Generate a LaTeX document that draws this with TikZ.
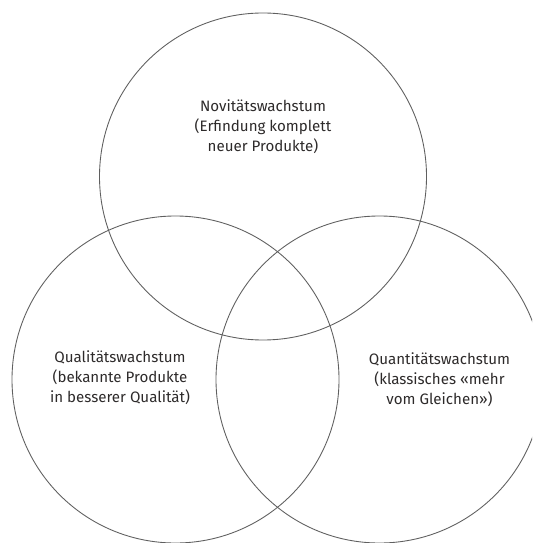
\documentclass[tikz,border=0pt]{standalone}
\usepackage{fontspec}
\setmainfont{Fira Sans}
\usepackage{tikz}
\definecolor{mydark}{RGB}{45,42,42}
\definecolor{mygray}{RGB}{95,95,95}
\tikzset{
  ring/.style={draw=mygray, line width=0.5pt},
  label/.style={align=center, text=mydark, inner sep=0pt,
    font=\fontsize{8.6}{11.3}\selectfont}
}

\begin{document}
\begin{tikzpicture}[x=0.02cm, y=-0.02cm]
  % Frame
  \useasboundingbox (0,0) rectangle (532,543);
  \clip (0,0) rectangle (532,543);

  % Circle centres
  \coordinate (nov) at (263,176.5);
  \coordinate (qual) at (175.5,379.5);
  \coordinate (quant) at (379.5,379.5);

  % Circles
  \draw[ring] (nov) circle[radius=163.5];
  \draw[ring] (qual) circle[radius=163.5];
  \draw[ring] (quant) circle[radius=163.5];

  % Labels
  \node[label] (novtext) at (263,127) {Novitätswachstum\\(Erfindung komplett\\neuer Produkte)};
  \node[label] (qualtext) at (120,378) {Qualitätswachstum\\(bekannte Produkte\\in besserer Qualität)};
  \node[label] (quanttext) at (439.5,380) {Quantitätswachstum\\(klassisches «mehr\\vom Gleichen»)};
\end{tikzpicture}
\end{document}
